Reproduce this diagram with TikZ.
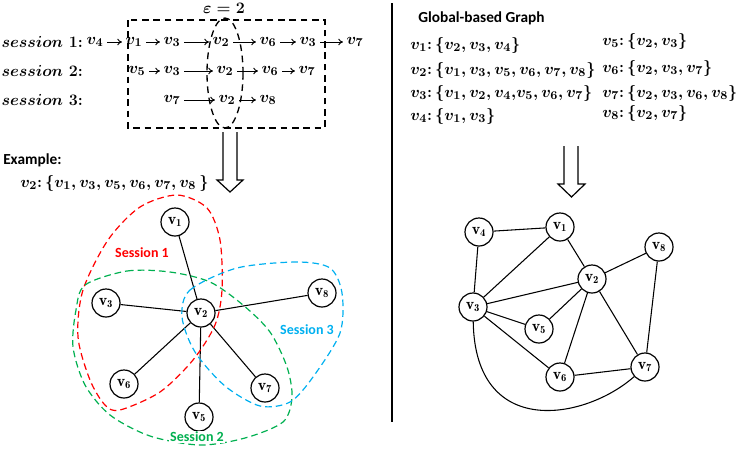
\documentclass[tikz,border=0pt]{standalone}
\usepackage{amsmath,amssymb,bm}
\usepackage{fontspec}
\newfontfamily\calibri{Carlito}
\usetikzlibrary{arrows.meta}
\definecolor{sred}{RGB}{255,0,0}
\definecolor{sgreen}{RGB}{0,176,80}
\definecolor{sblue}{RGB}{0,176,240}
\newcommand{\vx}[1]{v_{#1}}
\newcommand{\vn}[1]{$\mathbf{v}_{\mathbf{#1}}$}

\begin{document}
\begin{tikzpicture}[
  x=0.75pt, y=-0.75pt,
  seq/.style={inner sep=1pt, font=\boldmath\fontsize{13}{15}\selectfont},
  lst/.style={anchor=west, inner sep=0pt, font=\boldmath\fontsize{12.5}{15}\selectfont},
  hd/.style={anchor=west, inner sep=0pt, font=\calibri\bfseries\fontsize{11.5}{14}\selectfont},
  sess/.style={font=\calibri\bfseries\fontsize{10.5}{12}\selectfont},
  vtx/.style={draw, circle, line width=0.9pt, minimum size=21pt, inner sep=0pt, font=\fontsize{12}{14}\selectfont},
  edge/.style={line width=0.8pt},
  hop/.style={line width=0.7pt, shorten <=1.5pt, shorten >=1.5pt},
  dbox/.style={line width=1pt, dash pattern=on 5pt off 3.5pt},
  blob/.style={line width=0.9pt, dash pattern=on 5pt off 3pt},
  hollow/.style={line width=0.9pt, fill=white},
  >={To[length=3.5pt,width=5pt]}
]
\useasboundingbox (0,0) rectangle (748,451);

% sessions
\node[seq] (eps) at (224,8) {$\varepsilon=2$};
\draw[dbox] (128,20) rectangle (325,128);
\draw[dbox] (225,73) ellipse [x radius=18, y radius=55];

\node[seq, anchor=west] (s1) at (0,42) {$session\ 1\mathrm{:}$};
\node[seq, anchor=west] (s2) at (0,71) {$session\ 2\mathrm{:}$};
\node[seq, anchor=west] (s3) at (0,100) {$session\ 3\mathrm{:}$};
\foreach \n/\x/\v in {1/95/4, 2/134/1, 3/172/3, 4/221/2, 5/268/6, 6/308/3, 7/355/7}
  \node[seq] (a\n) at (\x,42) {$\vx{\v}$};
\foreach \n/\x/\v in {1/137/5, 2/172/3, 3/225/2, 4/270/6, 5/307/7}
  \node[seq] (b\n) at (\x,71) {$\vx{\v}$};
\foreach \n/\x/\v in {1/172/7, 2/227/2, 3/268/8}
  \node[seq] (c\n) at (\x,100) {$\vx{\v}$};
\foreach \n [count=\m from 2] in {1,...,6} \draw[->, hop] (a\n) -- (a\m);
\foreach \n [count=\m from 2] in {1,...,4} \draw[->, hop] (b\n) -- (b\m);
\foreach \n [count=\m from 2] in {1,2} \draw[->, hop] (c\n) -- (c\m);

\draw[hollow] (223,132) -- (223,180) -- (217,180) -- (230,192) -- (243,180) -- (237,180) -- (237,132);

\node[hd] (ex) at (3,160) {Example:};
\node[lst] (exl) at (20,183) {$\vx2\mathrm{:}\,\{v_1, v_3, v_5, v_6, v_7, v_8\,\}$};

% example graph
\node[vtx] (l1) at (175,222) {\vn1};
\node[vtx] (l2) at (201,313) {\vn2};
\node[vtx] (l3) at (106,303) {\vn3};
\node[vtx] (l5) at (199,417) {\vn5};
\node[vtx] (l6) at (124,384) {\vn6};
\node[vtx] (l7) at (265,388) {\vn7};
\node[vtx] (l8) at (322,293) {\vn8};
\foreach \n in {1,3,5,6,7,8} \draw[edge] (l2) -- (l\n);

\draw[blob, sred] plot[smooth cycle] coordinates {(177,195) (207,208) (220,240) (222,290) (215,325) (193,360) (160,392) (120,410) (105,405) (90,380) (78,337) (83,290) (108,240) (140,207)};
\draw[blob, sgreen] plot[smooth cycle] coordinates {(85,285) (127,271) (170,272) (210,282) (243,305) (270,332) (287,367) (292,397) (283,422) (245,438) (200,445) (150,436) (110,415) (85,385) (73,347) (76,310)};
\draw[blob, sblue] plot[smooth cycle] coordinates {(182,317) (190,290) (237,268) (297,262) (330,268) (342,293) (340,333) (313,377) (290,402) (260,406) (225,386) (195,352)};
\node[sess, text=sred] (t1) at (142,253) {Session 1};
\node[sess, text=sgreen, fill=white, inner sep=1pt] (t2) at (197,437) {Session 2};
\node[sess, text=sblue] (t3) at (307,330) {Session 3};

\draw[line width=1.1pt] (392,3) -- (392,422);

% global graph
\node[hd] (gg) at (418,18) {Global-based Graph};
\node[lst] (r1) at (410,45) {$\vx1\mathrm{:}\,\{v_2, v_3, v_4\}$};
\node[lst] (r2) at (410,70) {$\vx2\mathrm{:}\,\{v_1, v_3, v_5, v_6, v_7, v_8\}$};
\node[lst] (r3) at (410,93) {$\vx3\mathrm{:}\,\{v_1, v_2, v_4{,}v_5, v_6, v_7\}$};
\node[lst] (r4) at (410,116) {$\vx4\mathrm{:}\,\{v_1, v_3\}$};
\node[lst] (r5) at (602,41) {$\vx5\mathrm{:}\,\{v_2, v_3\}$};
\node[lst] (r6) at (602,68) {$\vx6\mathrm{:}\,\{v_2, v_3, v_7\}$};
\node[lst] (r7) at (602,93) {$\vx7\mathrm{:}\,\{v_2, v_3, v_6, v_8\}$};
\node[lst] (r8) at (602,113) {$\vx8\mathrm{:}\,\{v_2, v_7\}$};

\draw[hollow] (564,146) -- (564,184) -- (558,184) -- (571.5,197) -- (585,184) -- (578,184) -- (578,146);

\node[vtx] (g1) at (560,227) {\vn1};
\node[vtx] (g2) at (592,279) {\vn2};
\node[vtx] (g3) at (473,307) {\vn3};
\node[vtx] (g4) at (479,232) {\vn4};
\node[vtx] (g5) at (539,329) {\vn5};
\node[vtx] (g6) at (560,377) {\vn6};
\node[vtx] (g7) at (645,367) {\vn7};
\node[vtx] (g8) at (659,247) {\vn8};
\draw[edge] (g4) -- (g1);
\draw[edge] (g4) -- (g3);
\draw[edge] (g1) -- (g3);
\draw[edge] (g1) -- (g2);
\draw[edge] (g2) -- (g8);
\draw[edge] (g2) -- (g3);
\draw[edge] (g2) -- (g5);
\draw[edge] (g2) -- (g6);
\draw[edge] (g2) -- (g7);
\draw[edge] (g3) -- (g5);
\draw[edge] (g3) -- (g6);
\draw[edge] (g6) -- (g7);
\draw[edge] (g8) -- (g7);
\draw[edge] (g3) .. controls (475,440) and (585,420) .. (g7);
\end{tikzpicture}
\end{document}
